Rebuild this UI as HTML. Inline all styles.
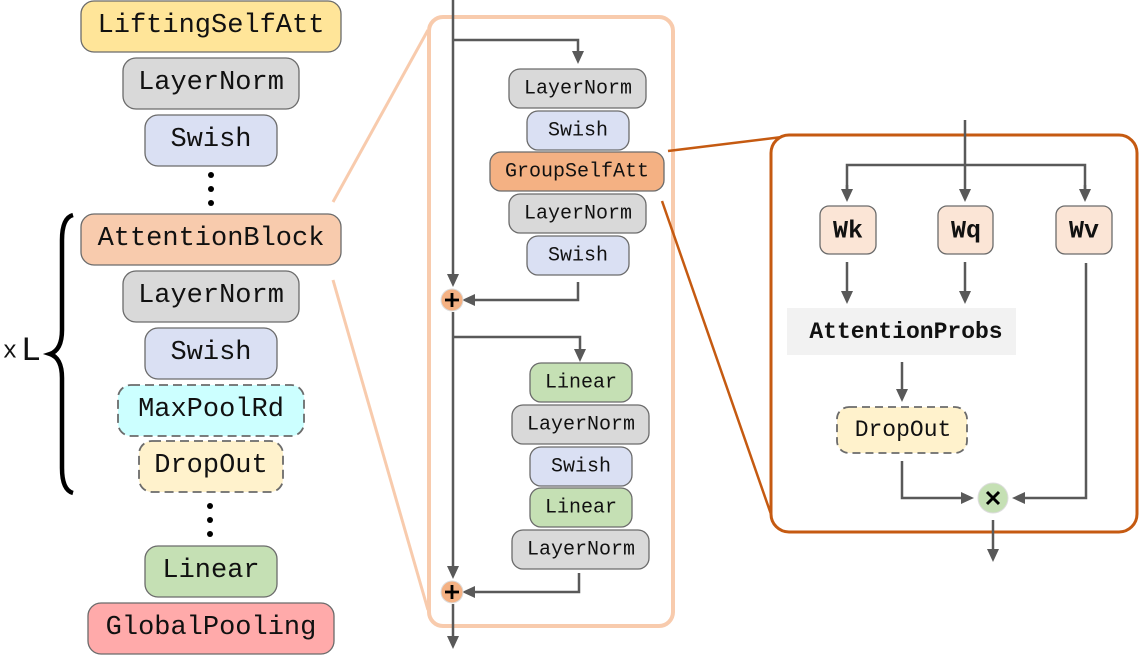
<!DOCTYPE html>
<html><head><meta charset="utf-8"><style>
html,body{margin:0;padding:0;background:#fff;}
svg{display:block;}
text{font-family:"Liberation Mono",monospace;dominant-baseline:central;text-anchor:middle;fill:#111;}
</style></head><body>
<svg width="1139" height="655" viewBox="0 0 1139 655" xmlns="http://www.w3.org/2000/svg">
<defs>
<marker id="a" markerWidth="14" markerHeight="14" refX="7" refY="6" orient="auto" markerUnits="userSpaceOnUse">
<path d="M0,0 L13,6 L0,12 z" fill="#595959"/></marker>
</defs>
<g stroke="#6b6b6b" stroke-width="1.3">
<rect x="81" y="1" width="260" height="51" rx="13" fill="#FFE599"/>
<rect x="123" y="58" width="176" height="51" rx="13" fill="#D9D9D9"/>
<rect x="145" y="115" width="132" height="51" rx="13" fill="#DAE0F3"/>
<rect x="81" y="214" width="260" height="51" rx="13" fill="#F8CBAD"/>
<rect x="123" y="271" width="176" height="51" rx="13" fill="#D9D9D9"/>
<rect x="145" y="328" width="132" height="51" rx="13" fill="#DAE0F3"/>
<rect x="118" y="385" width="186" height="51" rx="13" fill="#CCFFFF" stroke-dasharray="9,5" stroke-width="1.8"/>
<rect x="139" y="441" width="144" height="51" rx="13" fill="#FFF2CC" stroke-dasharray="9,5" stroke-width="1.8"/>
<rect x="145" y="546" width="132" height="51" rx="13" fill="#C5E0B4"/>
<rect x="88" y="603" width="246" height="51" rx="13" fill="#FFAAAA"/>
</g>
<g font-size="27">
<text x="211" y="26">LiftingSelfAtt</text>
<text x="211" y="83">LayerNorm</text>
<text x="211" y="140">Swish</text>
<text x="211" y="239">AttentionBlock</text>
<text x="211" y="296">LayerNorm</text>
<text x="211" y="353">Swish</text>
<text x="211" y="410">MaxPoolRd</text>
<text x="211" y="466">DropOut</text>
<text x="211" y="571">Linear</text>
<text x="211" y="628">GlobalPooling</text>
</g>
<g fill="#000">
<circle cx="211" cy="175" r="3"/><circle cx="211" cy="189" r="3"/><circle cx="211" cy="203" r="3"/>
<circle cx="210" cy="506" r="3"/><circle cx="210" cy="520" r="3"/><circle cx="210" cy="534" r="3"/>
</g>
<path d="M73,215 Q62,218 62,240 L62,330 Q62,350 50,354 Q62,358 62,378 L62,468 Q62,490 73,493" fill="none" stroke="#000" stroke-width="4.5"/>
<text x="10" y="352" font-size="24">x</text>
<text x="31" y="352" font-size="34" font-family="Liberation Serif, serif">L</text>
<line x1="333" y1="202" x2="428" y2="30" stroke="#F8CBAD" stroke-width="3"/>
<line x1="333" y1="280" x2="428" y2="610" stroke="#F8CBAD" stroke-width="3"/>
<rect x="429" y="17" width="244" height="609" rx="14" fill="#fff" stroke="#F8CBAD" stroke-width="4"/>
<g stroke="#595959" stroke-width="2.5" fill="none">
<line x1="453" y1="0" x2="453" y2="281" marker-end="url(#a)"/>
<polyline points="453,40 578,40 578,58" marker-end="url(#a)"/>
<polyline points="578,282 578,300 468,300" marker-end="url(#a)"/>
<line x1="453" y1="312" x2="453" y2="573" marker-end="url(#a)"/>
<polyline points="453,337 580,337 580,356" marker-end="url(#a)"/>
<polyline points="579,573 579,592 468,592" marker-end="url(#a)"/>
<line x1="453" y1="604" x2="453" y2="643" marker-end="url(#a)"/>
</g>
<g stroke="#6b6b6b" stroke-width="1.3">
<rect x="509" y="69" width="137" height="39" rx="11" fill="#D9D9D9"/>
<rect x="527" y="111" width="102" height="39" rx="11" fill="#DAE0F3"/>
<rect x="490" y="152" width="174" height="39" rx="11" fill="#F4B183"/>
<rect x="509" y="194" width="137" height="39" rx="11" fill="#D9D9D9"/>
<rect x="527" y="236" width="102" height="39" rx="11" fill="#DAE0F3"/>
<rect x="530" y="363" width="102" height="39" rx="11" fill="#C5E0B4"/>
<rect x="512" y="405" width="137" height="39" rx="11" fill="#D9D9D9"/>
<rect x="530" y="447" width="102" height="39" rx="11" fill="#DAE0F3"/>
<rect x="530" y="488" width="102" height="39" rx="11" fill="#C5E0B4"/>
<rect x="512" y="530" width="137" height="39" rx="11" fill="#D9D9D9"/>
</g>
<g font-size="20">
<text x="578" y="89">LayerNorm</text>
<text x="578" y="131">Swish</text>
<text x="577" y="172">GroupSelfAtt</text>
<text x="578" y="214">LayerNorm</text>
<text x="578" y="256">Swish</text>
<text x="581" y="383">Linear</text>
<text x="581" y="425">LayerNorm</text>
<text x="581" y="467">Swish</text>
<text x="581" y="508">Linear</text>
<text x="581" y="550">LayerNorm</text>
</g>
<g>
<circle cx="452" cy="300" r="11" fill="#F4B183" stroke="#ddd" stroke-width="1"/>
<circle cx="452" cy="592" r="11" fill="#F4B183" stroke="#ddd" stroke-width="1"/>
<path d="M445,300 h14 M452,293 v14 M445,592 h14 M452,585 v14" stroke="#000" stroke-width="2.8"/>
</g>
<line x1="668" y1="151" x2="782" y2="137" stroke="#C55A11" stroke-width="2.5"/>
<line x1="662" y1="201" x2="773" y2="520" stroke="#C55A11" stroke-width="2.5"/>
<rect x="771" y="135" width="366" height="397" rx="18" fill="#fff" stroke="#C55A11" stroke-width="3"/>
<g stroke="#595959" stroke-width="2.5" fill="none">
<line x1="965" y1="120" x2="965" y2="196" marker-end="url(#a)"/>
<polyline points="847,196 847,165 1085,165 1085,196" />
<line x1="847" y1="185" x2="847" y2="196" marker-end="url(#a)"/>
<line x1="1085" y1="185" x2="1085" y2="196" marker-end="url(#a)"/>
<line x1="847" y1="262" x2="847" y2="298" marker-end="url(#a)"/>
<line x1="965" y1="262" x2="965" y2="298" marker-end="url(#a)"/>
<line x1="902" y1="362" x2="902" y2="396" marker-end="url(#a)"/>
<polyline points="902,461 902,498 968,498" marker-end="url(#a)"/>
<polyline points="1086,263 1086,498 1018,498" marker-end="url(#a)"/>
<line x1="993" y1="520" x2="993" y2="556" marker-end="url(#a)"/>
</g>
<g stroke="#6b6b6b" stroke-width="1.3">
<rect x="820" y="206" width="56" height="48" rx="9" fill="#FBE5D6"/>
<rect x="938" y="206" width="55" height="48" rx="9" fill="#FBE5D6"/>
<rect x="1056" y="206" width="56" height="48" rx="9" fill="#FBE5D6"/>
<rect x="837" y="407" width="130" height="46" rx="12" fill="#FFF2CC" stroke-dasharray="8,5" stroke-width="1.8"/>
</g>
<rect x="787" y="308" width="229" height="47" fill="#F2F2F2"/>
<g font-size="25" font-weight="bold">
<text x="848" y="231">Wk</text>
<text x="966" y="231">Wq</text>
<text x="1084" y="231">Wv</text>
</g>
<text x="906" y="332" font-size="23" font-weight="bold">AttentionProbs</text>
<text x="903" y="430" font-size="23">DropOut</text>
<circle cx="993" cy="498" r="15" fill="#C5E0B4" stroke="#ddd" stroke-width="1"/>
<path d="M987,492 l12,12 M999,492 l-12,12" stroke="#000" stroke-width="3"/>
</svg>
</body></html>
